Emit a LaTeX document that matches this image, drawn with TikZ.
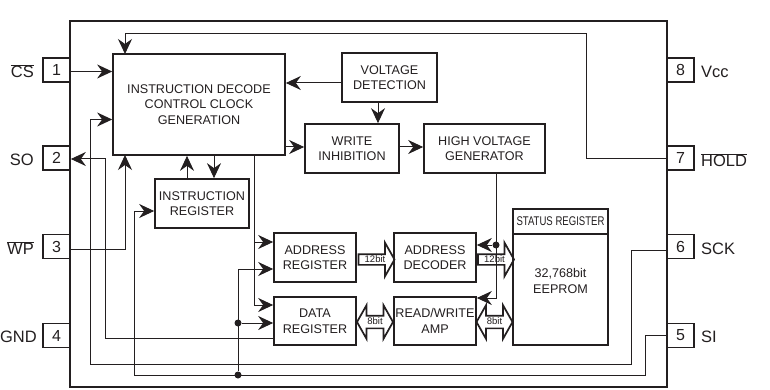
\documentclass[tikz,border=0pt]{standalone}
\usepackage{fontspec}
\setmainfont{Liberation Sans}
\usetikzlibrary{arrows.meta, shapes.arrows}
\definecolor{ink}{HTML}{231F20}
\tikzset{
  blk/.style={draw=ink, line width=1.7pt, text=ink, inner sep=0pt, align=center, font=\fontsize{12.6}{15.5}\selectfont},
  pin/.style={blk, minimum width=27pt, minimum height=24pt, font=\fontsize{16}{18}\selectfont},
  plab/.style={text=ink, inner sep=0pt, font=\fontsize{16.5}{18}\selectfont},
  tra/.style={-{Stealth[length=15pt, width=14pt, inset=5pt]}, draw=ink, line width=1pt},
  wire/.style={draw=ink, line width=1pt},
  busone/.style={single arrow, draw=ink, line width=1.7pt, text=ink, inner sep=0pt, minimum height=36pt,
    text height=7pt, text depth=2pt, single arrow head extend=11.5pt, single arrow head indent=0pt, single arrow tip angle=121,
    font=\fontsize{9.5}{10}\selectfont},
  bustwo/.style={double arrow, draw=ink, line width=1.7pt, text=ink, inner sep=0pt, minimum height=36pt,
    text height=8pt, text depth=3pt, double arrow head extend=10.5pt, double arrow head indent=0pt, double arrow tip angle=121,
    font=\fontsize{9.5}{10}\selectfont},
  dot/.style={circle, fill=ink, inner sep=0pt, minimum size=7pt}
}
\begin{document}
\begin{tikzpicture}[x=1pt, y=-1pt]
	\useasboundingbox (0,0) rectangle (770,390);
	% pins
	\node[pin] (p1) at (56.5,70) {1};
	\node[pin] (p2) at (56.5,158) {2};
	\node[pin] (p3) at (56.5,246.5) {3};
	\node[pin] (p4) at (56.5,335.5) {4};
	\node[pin] (p8) at (680.5,70) {8};
	\node[pin] (p7) at (680.5,158) {7};
	\node[pin] (p6) at (680.5,246.5) {6};
	\node[pin] (p5) at (680.5,335.5) {5};
	\node[blk, fill=white, minimum width=597pt, minimum height=366pt] (chip) at (368.5,204) {};
	\node[plab, anchor=east] (cs) at (34,71) {$\overline{\mbox{CS}}$};
	\node[plab, anchor=east] (so) at (34,160) {SO};
	\node[plab, anchor=east] (wp) at (34,248) {$\overline{\mbox{WP}}$};
	\node[plab, anchor=east] (gnd) at (37,337) {GND};
	\node[plab, anchor=west] (vcc) at (701,72) {Vcc};
	\node[plab, anchor=west] (hold) at (701,160) {$\overline{\mbox{HOLD}}$};
	\node[plab, anchor=west] (sck) at (701,249) {SCK};
	\node[plab, anchor=west] (si) at (701,337) {SI};
	% blocks
	\node[blk, minimum width=172pt, minimum height=101pt] (dec) at (199,104.5) {INSTRUCTION DECODE\\CONTROL CLOCK\\GENERATION};
	\node[blk, minimum width=94pt, minimum height=49pt] (ir) at (202,203.5) {INSTRUCTION\\REGISTER};
	\node[blk, minimum width=95pt, minimum height=49pt] (vd) at (389.5,77.5) {VOLTAGE\\DETECTION};
	\node[blk, minimum width=94pt, minimum height=49pt] (wi) at (352,148.5) {WRITE\\INHIBITION};
	\node[blk, minimum width=121pt, minimum height=49pt] (hv) at (484.5,148.5) {HIGH VOLTAGE\\GENERATOR};
	\node[blk, minimum width=82pt, minimum height=49pt] (ar) at (315,257.5) {ADDRESS\\REGISTER};
	\node[blk, minimum width=82pt, minimum height=49pt] (ad) at (435,257.5) {ADDRESS\\DECODER};
	\node[blk, minimum width=82pt, minimum height=48pt] (dr) at (315,321) {DATA\\REGISTER};
	\node[blk, minimum width=82pt, minimum height=48pt] (rw) at (435,321) {READ/WRITE\\AMP};
	\node[blk, minimum width=95pt, minimum height=25pt] (sr) at (560.5,221.5) {};
	\node[text=ink, inner sep=0pt, xscale=0.76, font=\fontsize{12.6}{14}\selectfont] (srt) at (sr) {STATUS REGISTER};
	\node[blk, minimum width=95pt, minimum height=111pt, text depth=17pt] (rom) at (560.5,289.5) {32,768bit\\EEPROM};
	% buses
	\node[busone] (b1) at (375,259.5) {12bit};
	\node[busone] (b2) at (494.5,259.5) {12bit};
	\node[bustwo] (b3) at (375,322) {8bit};
	\node[bustwo] (b4) at (494.5,322) {8bit};
	% junctions
	\node[dot] (j1) at (238,323) {};
	\node[dot] (j2) at (238,375) {};
	\node[dot] (j3) at (496,245) {};
	% connectors
	\draw[tra] (p1.east |- 0,71.5) -- (dec.west |- 0,71.5);
	\draw[tra] (p7.west |- 0,159) -- (586,159) -- (586,33.5) -- (125,33.5) -- (125,54);
	\draw[tra] (p6.west |- 0,250) -- (631,250) -- (631,364) -- (90,364) -- (90,119.5) -- (dec.west |- 0,119.5);
	\draw[tra] (dr.west |- 0,338) -- (105,338) -- (105,159) -- (p2.east |- 0,159);
	\draw[tra] (p3.east |- 0,249) -- (125,249) -- (125,155);
	\draw[tra] (p5.west |- 0,335) -- (645,335) -- (645,375) -- (134,375) -- (134,211) -- (ir.west |- 0,211);
	\draw[wire] (j2) -- (238,269);
	\draw[tra] (238,269) -- (ar.west |- 0,269);
	\draw[tra] (j1) -- (dr.west |- j1);
	\draw[tra] (ir.north -| 187,0) -- (dec.south -| 187,0);
	\draw[tra] (dec.south -| 214,0) -- (ir.north -| 214,0);
	\draw[wire] (dec.south -| 254,0) -- (254,305);
	\draw[tra] (254,242) -- (ar.west |- 0,242);
	\draw[tra] (254,305) -- (dr.west |- 0,305);
	\draw[tra] (dec.east |- 0,147) -- (wi.west |- 0,147);
	\draw[tra] (vd.west |- 0,83) -- (dec.east |- 0,83);
	\draw[tra] (vd.south -| 378,0) -- (wi.north -| 378,0);
	\draw[tra] (wi.east |- 0,147) -- (hv.west |- 0,147);
	\draw[tra] (hv.south -| 496,0) -- (496,298) -- (rw.east |- 0,298);
	\draw[tra] (j3) -- (ad.east |- j3);
\end{tikzpicture}
\end{document}
